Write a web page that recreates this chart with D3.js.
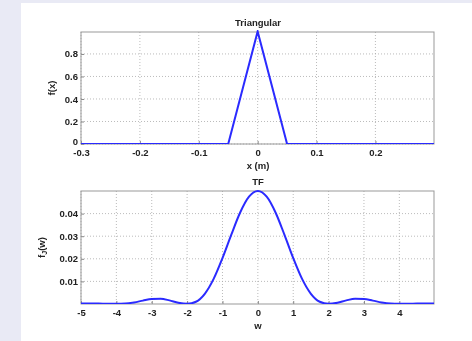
<!DOCTYPE html>
<html>
<head>
<meta charset="UTF-8">
<script src="https://d3js.org/d3.v7.min.js"></script>
<style>
  body { margin:0; background:#e9eaf5; }
  svg { display:block; }
  text { font-family: "Liberation Sans", Arial, sans-serif; fill:#222; }
</style>
</head>
<body>
<svg></svg>
<script>
// triangle pulse
let triX = [-0.3, -0.05, 0, 0.05, 0.3];
let triY = [0, 0, 1, 0, 0];

// transform, every 0.25
let tfW = [-5,-4.75,-4.5,-4.25,-4,-3.75,-3.5,-3.25,-3,-2.75,-2.5,-2.25,-2,-1.75,-1.5,-1.25,-1,-0.75,-0.5,-0.25,
           0,0.25,0.5,0.75,1,1.25,1.5,1.75,2,2.25,2.5,2.75,3,3.25,3.5,3.75,4,4.25,4.5,4.75,5];
let tfF = [0.0002,0.0002,0.0002,0.0001,0.0001,0.0002,0.0007,0.0015,0.0022,0.0023,0.0016,0.0006,0.0001,0.001,0.0045,0.0111,0.0203,0.0307,0.0405,0.0475,
           0.05,0.0475,0.0405,0.0307,0.0203,0.0111,0.0045,0.001,0.0001,0.0006,0.0016,0.0023,0.0022,0.0015,0.0007,0.0002,0.0001,0.0001,0.0002,0.0002,0.0002];

let topXTicks = [-0.3, -0.2, -0.1, 0, 0.1, 0.2];
let topYTicks = [0, 0.2, 0.4, 0.6, 0.8];
let botXTicks = [-5, -4, -3, -2, -1, 0, 1, 2, 3, 4];
let botYTicks = [0.01, 0.02, 0.03, 0.04];

let width = 472, height = 341;
let svg = d3.select("svg").attr("width", width).attr("height", height);

svg.append("defs").append("filter").attr("id", "soft")
  .append("feGaussianBlur").attr("stdDeviation", 0.55);

svg.append("rect").attr("x", 21).attr("y", 3).attr("width", width - 21).attr("height", height - 3).attr("fill", "#fff");

let root = svg.append("g").attr("filter", "url(#soft)");

// plain hyphen like matlab
let fmt = f => d => f(d).replace("\u2212", "-");

function panel(opt) {
  let x = d3.scaleLinear().domain(opt.xd).range([81, 434]);
  let y = d3.scaleLinear().domain(opt.yd).range([opt.bottom, opt.top]);
  let g = root.append("g");

  // grid
  g.append("g").selectAll("line").data(opt.xt).enter().append("line")
    .attr("x1", d => x(d)).attr("x2", d => x(d)).attr("y1", opt.top).attr("y2", opt.bottom)
    .attr("stroke", "#aaa").attr("stroke-width", 0.8).attr("stroke-dasharray", "1,2");
  g.append("g").selectAll("line").data(opt.yt).enter().append("line")
    .attr("y1", d => y(d)).attr("y2", d => y(d)).attr("x1", 81).attr("x2", 434)
    .attr("stroke", "#aaa").attr("stroke-width", 0.8).attr("stroke-dasharray", "1,2");

  // axes with inward ticks
  let xa = d3.axisBottom(x).tickValues(opt.xt).tickSize(-3).tickPadding(5).tickFormat(fmt(d3.format("")));
  let ya = d3.axisLeft(y).tickValues(opt.yt).tickSize(-3).tickPadding(3).tickFormat(fmt(opt.yf));
  let gx = g.append("g").attr("transform", "translate(0," + opt.bottom + ")").call(xa);
  let gy = g.append("g").attr("transform", "translate(81,0)").call(ya);
  [gx, gy].forEach(a => {
    a.select(".domain").remove();
    a.selectAll(".tick line").attr("stroke", "#888");
    a.selectAll("text").style("font-size", "9.5px").style("font-weight", "bold").attr("fill", "#333")
      .style("font-family", "Liberation Sans, Arial, sans-serif");
  });
  // lift the bottom y label a bit so it clears the first x label
  gy.selectAll(".tick text").filter(d => d === opt.yd[0]).attr("dy", "0.05em");

  g.append("rect").attr("x", 81).attr("y", opt.top).attr("width", 434 - 81).attr("height", opt.bottom - opt.top)
    .attr("fill", "none").attr("stroke", "#999").attr("stroke-width", 1);

  let clipId = "c" + opt.top;
  svg.select("defs").append("clipPath").attr("id", clipId)
    .append("rect").attr("x", 81).attr("y", opt.top - 2).attr("width", 353).attr("height", opt.bottom - opt.top + 2);

  let line = d3.line().x(d => x(d[0])).y(d => y(d[1])).curve(opt.curve);
  g.append("path").datum(d3.zip(opt.xs, opt.ys))
    .attr("clip-path", "url(#" + clipId + ")")
    .attr("d", line).attr("fill", "none").attr("stroke", "#2a2aff").attr("stroke-width", 2);

  g.append("text").attr("x", 258).attr("y", opt.top - 6).attr("text-anchor", "middle")
    .style("font-size", "9.5px").style("font-weight", "bold").attr("fill", "#333").text(opt.title);
  g.append("text").attr("x", 258).attr("y", opt.bottom + 25).attr("text-anchor", "middle")
    .style("font-size", "9.5px").style("font-weight", "bold").attr("fill", "#333").text(opt.xlabel);
  let yl = g.append("text").attr("transform", "translate(" + opt.ylx + "," + ((opt.top + opt.bottom) / 2) + ") rotate(-90)")
    .attr("text-anchor", "middle").style("font-size", "9.5px").style("font-weight", "bold").attr("fill", "#333");
  opt.ylabel(yl);
}

panel({
  xd: [-0.3, 0.2995], yd: [0, 0.995], top: 32, bottom: 144,
  xt: topXTicks, yt: topYTicks, yf: d3.format(""),
  xs: triX, ys: triY, curve: d3.curveLinear,
  title: "Triangular", xlabel: "x (m)", ylx: 55,
  ylabel: t => t.text("f(x)")
});

panel({
  xd: [-5, 4.98], yd: [0, 0.05], top: 191, bottom: 304,
  xt: botXTicks, yt: botYTicks, yf: d3.format(".2f"),
  xs: tfW, ys: tfF, curve: d3.curveMonotoneX,
  title: "TF", xlabel: "w", ylx: 45,
  ylabel: t => {
    t.append("tspan").text("f");
    t.append("tspan").attr("dy", 2).style("font-size", "7px").text("J");
    t.append("tspan").attr("dy", -2).text("(w)");
  }
});
</script>
</body>
</html>
